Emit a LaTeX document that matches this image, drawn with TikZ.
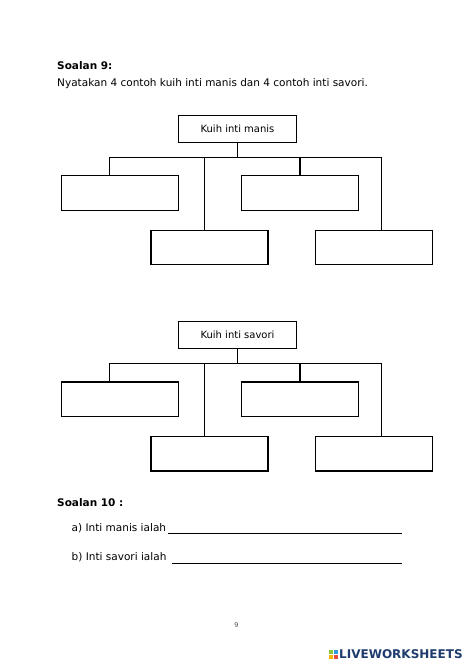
\documentclass[tikz,border=0pt]{standalone}
\usepackage{fontspec}
\setmainfont{DejaVu Sans}
\newfontfamily\logofont{DejaVu Sans}
\definecolor{logoblue}{HTML}{1F3C6E}
\definecolor{sqA}{HTML}{8CC63F}
\definecolor{sqB}{HTML}{2E9BD6}
\definecolor{sqC}{HTML}{E84A3C}
\definecolor{sqD}{HTML}{F5B400}
\tikzset{
  box/.style={draw, line width=1.3pt, minimum width=117pt, minimum height=34.5pt, inner sep=0pt},
  headbox/.style={draw, line width=1.3pt, minimum width=118pt, minimum height=27pt, inner sep=0pt, font=\fontsize{10}{12}\selectfont},
  conn/.style={line width=1.3pt},
  txt/.style={anchor=west, inner sep=0pt, font=\fontsize{10.5}{12}\selectfont},
  ans/.style={line width=0.8pt},
}
\newcommand\mytree[3]{% prefix, y offset, title
  \node[headbox] (#1top) at (237.5,128.7+#2) {#3};
  \node[box] (#1L1) at (119.7,192.9+#2) {};
  \node[box] (#1R1) at (300,192.9+#2) {};
  \node[box] (#1L2) at (209.5,247.5+#2) {};
  \node[box] (#1R2) at (374.3,247.5+#2) {};
  \coordinate (#1barL) at (109.3,157.3+#2);
  \coordinate (#1barR) at (381.7,157.3+#2);
  \coordinate (#1dM) at (204.3,157.3+#2);
  \coordinate (#1dR) at (300,157.3+#2);
  \draw[conn] (#1top.south) -- (#1top.south |- #1barL);
  \draw[conn] (#1barL |- #1L1.north) -- (#1barL) -- (#1barR) -- (#1barR |- #1R2.north);
  \draw[conn] (#1dM) -- (#1dM |- #1L2.north);
  \draw[conn] (#1dR) -- (#1R1.north);
}
\begin{document}
\begin{tikzpicture}[x=1pt,y=-1pt]
\useasboundingbox[fill=white] (0,0) rectangle (474,670);
\node[txt, font=\fontsize{10.5}{12}\selectfont\bfseries] (s9) at (57,65.5) {Soalan 9:};
\node[txt] (q9) at (57,83.5) {Nyatakan 4 contoh kuih inti manis dan 4 contoh inti savori.};
\mytree{a}{0}{Kuih inti manis}
\mytree{b}{206.3}{Kuih inti savori}
\node[txt, font=\fontsize{10.5}{12}\selectfont\bfseries] (s10) at (57,503) {Soalan 10 :};
\node[txt] (qa) at (71.5,528.5) {a) Inti manis ialah};
\node[txt] (qb) at (71.5,557) {b) Inti savori ialah};
\coordinate (la) at (168,533.5);
\coordinate (lae) at (401.5,533.5);
\coordinate (lb) at (171.5,563);
\coordinate (lbe) at (401.5,563);
\draw[ans] (la) -- (lae);
\draw[ans] (lb) -- (lbe);
\node[inner sep=0pt, font=\fontsize{6.5}{8}\selectfont, text=black!70] (pg) at (236.5,625.5) {9};
% logo
\fill[sqA] (328.5,649.5) rectangle (333,654);
\fill[sqB] (333.8,649.5) rectangle (338.3,654);
\fill[sqD] (328.5,654.8) rectangle (333,659.3);
\fill[sqC] (333.8,654.8) rectangle (338.3,659.3);
\node[anchor=west, inner sep=0pt, text=logoblue, font=\logofont\fontsize{12}{14}\selectfont\bfseries] (logo) at (339,654.5) {LIVEWORKSHEETS};
\end{tikzpicture}
\end{document}
